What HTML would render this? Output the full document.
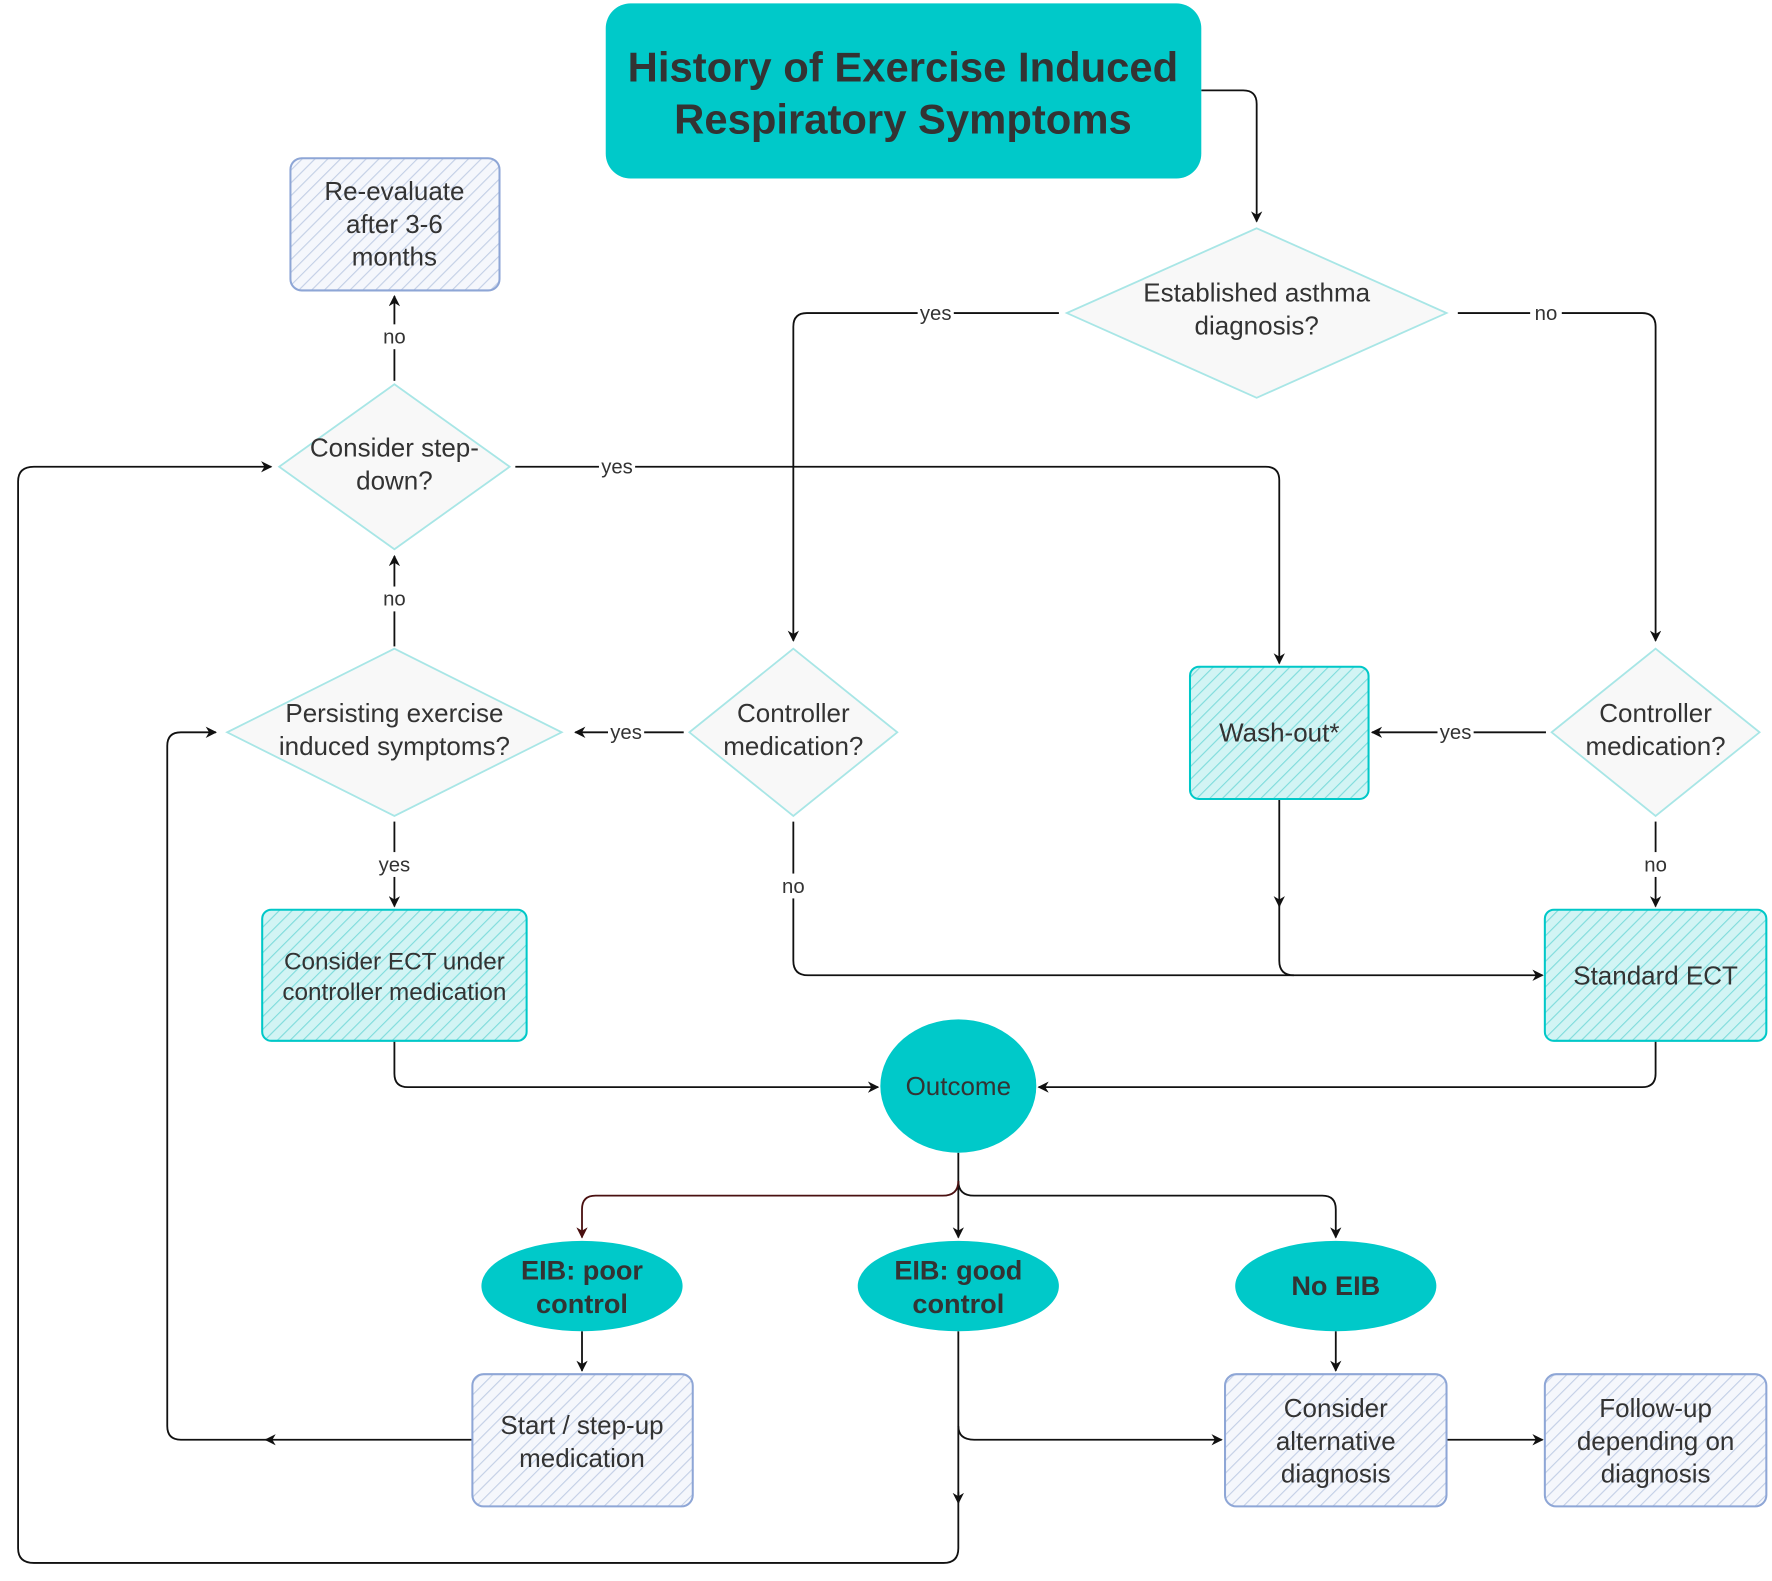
<!DOCTYPE html>
<html><head><style>html,body{margin:0;padding:0;background:#fff}svg{display:block}</style></head>
<body>
<svg width="1772" height="1581" viewBox="0 0 1568 1399" xmlns="http://www.w3.org/2000/svg" font-family="Liberation Sans, sans-serif">
<defs>
<pattern id="hb" width="8" height="8" patternUnits="userSpaceOnUse" patternTransform="rotate(45)"><rect width="8" height="8" fill="#f5f7fc"/><line x1="0" y1="0" x2="0" y2="8" stroke="#c3cfe6" stroke-width="2"/></pattern>
<pattern id="ht" width="8" height="8" patternUnits="userSpaceOnUse" patternTransform="rotate(45)"><rect width="8" height="8" fill="#d2f4f4"/><line x1="0" y1="0" x2="0" y2="8" stroke="#7fdcdc" stroke-width="2"/></pattern>
<marker id="a" markerWidth="10" markerHeight="10" refX="9" refY="5" orient="auto" markerUnits="userSpaceOnUse"><path d="M0,0 L10,5 L0,10 L3,5 z" fill="#111"/></marker>
<marker id="ar" markerWidth="10" markerHeight="10" refX="9" refY="5" orient="auto" markerUnits="userSpaceOnUse"><path d="M0,0 L10,5 L0,10 L3,5 z" fill="#4a1010"/></marker>
</defs>
<g fill="none" stroke="#111" stroke-width="1.6">
<path d="M1063,80 H1100 Q1112,80 1112,92 V196" marker-end="url(#a)"/>
<path d="M937,277 H714 Q702,277 702,289 V567" marker-end="url(#a)"/>
<path d="M1290,277 H1453 Q1465,277 1465,289 V567" marker-end="url(#a)"/>
<path d="M1368,648 H1214" marker-end="url(#a)"/>
<path d="M1465,727 V802" marker-end="url(#a)"/>
<path d="M1132,707 V802" marker-end="url(#a)"/>
<path d="M1132,800 V850 Q1132,863 1145,863"/>
<path d="M702,727 V850 Q702,863 715,863 H1365" marker-end="url(#a)"/>
<path d="M605,648 H509" marker-end="url(#a)"/>
<path d="M349,727 V802" marker-end="url(#a)"/>
<path d="M349,572 V492" marker-end="url(#a)"/>
<path d="M349,337 V262" marker-end="url(#a)"/>
<path d="M456,413 H1120 Q1132,413 1132,425 V587" marker-end="url(#a)"/>
<path d="M349,921 V950 Q349,962 361,962 H777" marker-end="url(#a)"/>
<path d="M1465,921 V950 Q1465,962 1453,962 H919" marker-end="url(#a)"/>
<path d="M848,1020 V1095" marker-end="url(#a)"/>
<path d="M848,1045 Q848,1058 862,1058 H1170 Q1182,1058 1182,1070 V1095" marker-end="url(#a)"/>
<path d="M515,1178 V1213" marker-end="url(#a)"/>
<path d="M418,1274 H235" marker-end="url(#a)"/>
<path d="M240,1274 H160 Q148,1274 148,1262 V660 Q148,648 160,648 H191" marker-end="url(#a)"/>
<path d="M848,1178 V1330" marker-end="url(#a)"/>
<path d="M848,1262 Q848,1274 862,1274 H1081" marker-end="url(#a)"/>
<path d="M848,1320 V1370 Q848,1383 835,1383 H30 Q16,1383 16,1370 V426 Q16,413 30,413 H240" marker-end="url(#a)"/>
<path d="M1182,1178 V1213" marker-end="url(#a)"/>
<path d="M1280,1274 H1365" marker-end="url(#a)"/>
</g>
<path d="M848,1045 Q848,1058 834,1058 H527 Q515,1058 515,1070 V1095" fill="none" stroke="#4a1010" stroke-width="1.6" marker-end="url(#ar)"/>
<rect x="536" y="3" width="527" height="155" rx="22" fill="#00c9c9"/>
<text x="799" y="72" font-size="37" font-weight="bold" fill="#333" text-anchor="middle">History of Exercise Induced</text>
<text x="799" y="118" font-size="37" font-weight="bold" fill="#333" text-anchor="middle">Respiratory Symptoms</text>
<g fill="#f8f8f8" stroke="#a8e6e6" stroke-width="1.6">
<path d="M1112,202 L1280,277 L1112,352 L944,277 Z"/>
<path d="M702,574 L794,648 L702,722 L610,648 Z"/>
<path d="M1465,574 L1557,648 L1465,722 L1373,648 Z"/>
<path d="M349,574 L497,648 L349,722 L201,648 Z"/>
<path d="M349,340 L451,413 L349,486 L247,413 Z"/>
</g>
<g stroke-width="1.8">
<rect x="1053" y="590" width="158" height="117" rx="8" fill="url(#ht)" stroke="#00c8c8"/>
<rect x="1367" y="805" width="196" height="116" rx="8" fill="url(#ht)" stroke="#00c8c8"/>
<rect x="232" y="805" width="234" height="116" rx="8" fill="url(#ht)" stroke="#00c8c8"/>
<rect x="257" y="140" width="185" height="117" rx="10" fill="url(#hb)" stroke="#8ea6d6"/>
<rect x="418" y="1216" width="195" height="117" rx="10" fill="url(#hb)" stroke="#8ea6d6"/>
<rect x="1084" y="1216" width="196" height="117" rx="10" fill="url(#hb)" stroke="#8ea6d6"/>
<rect x="1367" y="1216" width="196" height="117" rx="10" fill="url(#hb)" stroke="#8ea6d6"/>
</g>
<g fill="#00c9c9">
<ellipse cx="848" cy="961" rx="69" ry="59"/>
<ellipse cx="515" cy="1138" rx="89" ry="40"/>
<ellipse cx="848" cy="1138" rx="89" ry="40"/>
<ellipse cx="1182" cy="1138" rx="89" ry="40"/>
</g>
<g fill="#333" font-size="23" text-anchor="middle">
<text x="1112" y="267">Established asthma</text><text x="1112" y="296">diagnosis?</text>
<text x="702" y="639">Controller</text><text x="702" y="668">medication?</text>
<text x="1465" y="639">Controller</text><text x="1465" y="668">medication?</text>
<text x="349" y="639">Persisting exercise</text><text x="349" y="668">induced symptoms?</text>
<text x="349" y="404">Consider step-</text><text x="349" y="433">down?</text>
<text x="349" y="177">Re-evaluate</text><text x="349" y="206">after 3-6</text><text x="349" y="235">months</text>
<text x="1132" y="656">Wash-out*</text>
<text x="1465" y="871">Standard ECT</text>
<text x="349" y="858" font-size="21.5">Consider ECT under</text><text x="349" y="885" font-size="21.5">controller medication</text>
<text x="848" y="969">Outcome</text>
<text x="515" y="1269">Start / step-up</text><text x="515" y="1298">medication</text>
<text x="1182" y="1254">Consider</text><text x="1182" y="1283">alternative</text><text x="1182" y="1312">diagnosis</text>
<text x="1465" y="1254">Follow-up</text><text x="1465" y="1283">depending on</text><text x="1465" y="1312">diagnosis</text>
<g font-weight="bold" font-size="24"><text x="515" y="1132">EIB: poor</text><text x="515" y="1162">control</text>
<text x="848" y="1132">EIB: good</text><text x="848" y="1162">control</text>
<text x="1182" y="1146">No EIB</text></g>
</g>
<g fill="#333" font-size="18" text-anchor="middle">
<rect x="812" y="265" width="32" height="22" fill="#fff"/><text x="828" y="283">yes</text>
<rect x="1354" y="265" width="28" height="22" fill="#fff"/><text x="1368" y="283">no</text>
<rect x="530" y="402" width="32" height="22" fill="#fff"/><text x="546" y="419">yes</text>
<rect x="1272" y="637" width="32" height="22" fill="#fff"/><text x="1288" y="654">yes</text>
<rect x="538" y="637" width="32" height="22" fill="#fff"/><text x="554" y="654">yes</text>
<rect x="333" y="754" width="32" height="22" fill="#fff"/><text x="349" y="771">yes</text>
<rect x="1451" y="754" width="28" height="22" fill="#fff"/><text x="1465" y="771">no</text>
<rect x="688" y="773" width="28" height="22" fill="#fff"/><text x="702" y="790">no</text>
<rect x="335" y="519" width="28" height="22" fill="#fff"/><text x="349" y="536">no</text>
<rect x="335" y="287" width="28" height="22" fill="#fff"/><text x="349" y="304">no</text>
</g>
</svg>
</body></html>
